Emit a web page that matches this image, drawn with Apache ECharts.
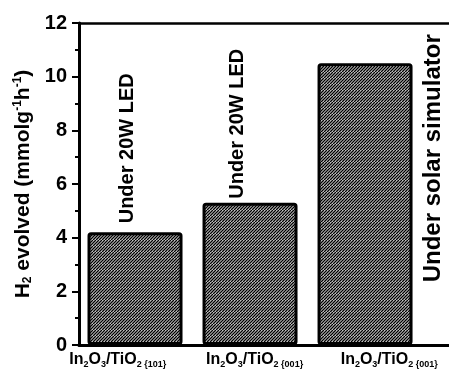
<!DOCTYPE html>
<html>
<head>
<meta charset="utf-8">
<script src="https://cdn.jsdelivr.net/npm/echarts@6/dist/echarts.min.js"></script>
<style>
  html, body { margin: 0; padding: 0; background: #fff; }
  #chart { width: 449px; height: 373px; }
  #err { position: absolute; left: 90px; top: 260px; width: 220px; font: 9px monospace; color: #d00; white-space: pre-wrap; }
</style>
</head>
<body>
<div id="chart"></div>
<div id="err"></div>
<script>
// only shows something if the page throws
const errBox = document.getElementById('err')
window.addEventListener('error', (e) => { errBox.textContent += 'X ' + e.message + '\n' })

// catalysts on the x axis, H2 evolved (mmol g-1 h-1) and light source of each bar
const catalysts = ['In2O3/TiO2 {101}', 'In2O3/TiO2 {001}', 'In2O3/TiO2 {001}']
const h2Evolved = [4.2, 5.3, 10.5]
const lightSources = ['Under 20W LED', 'Under 20W LED', 'Under solar simulator']
const yTicks = [0, 2, 4, 6, 8, 10, 12]

// x layout in "bar slots": first bar centre and right end of the frame
const firstCenter = 0.487
const xMax = 3.217
// little sideways shift of the catalyst names, as in the original figure
const nameShift = [-0.15, 0.04, 0.21]

// label spot (px from the bar's top-left corner) for each bar
const labelSpot = [
  { position: [40, -9], align: 'left', size: 20 },
  { position: [35, -4], align: 'left', size: 20 },
  { position: [116, -29], align: 'right', size: 24 }
]

const FONT = 'Arial, "Liberation Sans", sans-serif'
const yMax = yTicks[yTicks.length - 1]

// hatch fill: dense "/" lines
function makeHatch() {
  const c = document.createElement('canvas')
  c.width = 6
  c.height = 6
  const ctx = c.getContext('2d')
  ctx.fillStyle = '#fff'
  ctx.fillRect(0, 0, 6, 6)
  ctx.strokeStyle = '#000'
  ctx.lineWidth = 1.5
  for (let k = -9; k <= 12; k += 3) {
    ctx.beginPath()
    ctx.moveTo(k, 6)
    ctx.lineTo(k + 6, 0)
    ctx.stroke()
  }
  return c
}

// catalyst name with subscripts; safe for any value the axis asks about
function catalystLabel(v) {
  const name = catalysts[Math.round(v - firstCenter)]
  if (!name) return ''
  const facet = name.split(' ')[1]
  return '{m|In}2{m|O}3{m|/TiO}2 ' + facet
}

const mychart = echarts.init(document.getElementById('chart'))

const option = {
  backgroundColor: '#fff',
  animation: false,
  grid: { left: 79, right: 0, top: 23, bottom: 28, outerBoundsMode: 'none' },
  xAxis: [
    {
      type: 'value',
      min: 0,
      max: xMax,
      position: 'bottom',
      splitLine: { show: false },
      axisTick: { show: false },
      axisLine: { show: true, onZero: false, lineStyle: { color: '#000', width: 3 } },
      axisLabel: {
        customValues: catalysts.map((c, i) => i + firstCenter + nameShift[i]),
        margin: 7,
        color: '#000',
        fontFamily: FONT,
        fontWeight: 'bold',
        fontSize: 9,
        lineHeight: 26,
        formatter: catalystLabel,
        rich: {
          m: { fontFamily: FONT, fontWeight: 'bold', fontSize: 16, lineHeight: 15, verticalAlign: 'top', color: '#000' }
        }
      }
    },
    {
      type: 'value',
      min: 0,
      max: xMax,
      position: 'top',
      splitLine: { show: false },
      axisTick: { show: false },
      axisLabel: { show: false },
      axisLine: { show: true, onZero: false, lineStyle: { color: '#000', width: 2.5 } }
    }
  ],
  yAxis: {
    type: 'value',
    min: yTicks[0],
    max: yMax,
    interval: 2,
    splitLine: { show: false },
    axisLine: { show: true, lineStyle: { color: '#000', width: 3 } },
    axisTick: { show: true, length: 7, lineStyle: { color: '#000', width: 2 } },
    minorTick: { show: true, splitNumber: 2, length: 4, lineStyle: { color: '#000', width: 2 } },
    axisLabel: { margin: 12, color: '#000', fontFamily: FONT, fontWeight: 'bold', fontSize: 20 },
    name: '{t|H}{sub|2}{t| evolved (mmolg}{sup|-1}{t|h}{sup|-1}{t|)}',
    nameLocation: 'middle',
    nameGap: 42,
    nameTextStyle: {
      rich: {
        t: { fontFamily: FONT, fontWeight: 'bold', fontSize: 21, lineHeight: 22, color: '#000' },
        sub: { fontFamily: FONT, fontWeight: 'bold', fontSize: 12, lineHeight: 12, verticalAlign: 'bottom', color: '#000' },
        sup: { fontFamily: FONT, fontWeight: 'bold', fontSize: 12, lineHeight: 12, verticalAlign: 'top', color: '#000' }
      }
    }
  },
  series: [
    {
      type: 'bar',
      xAxisIndex: 0,
      barWidth: 95,
      itemStyle: {
        color: { image: makeHatch(), repeat: 'repeat' },
        borderColor: '#000',
        borderWidth: 3,
        borderRadius: 2
      },
      data: h2Evolved.map((v, i) => ({
        value: [i + firstCenter, v],
        label: {
          show: true,
          formatter: lightSources[i],
          rotate: 90,
          position: labelSpot[i].position,
          align: labelSpot[i].align,
          verticalAlign: 'middle',
          color: '#000',
          fontFamily: FONT,
          fontWeight: 'bold',
          fontSize: labelSpot[i].size
        }
      }))
    }
  ]
}

try {
  mychart.setOption(option)
} catch (e) {
  errBox.textContent += 'T ' + e.message + '\n'
}
</script>
</body>
</html>
